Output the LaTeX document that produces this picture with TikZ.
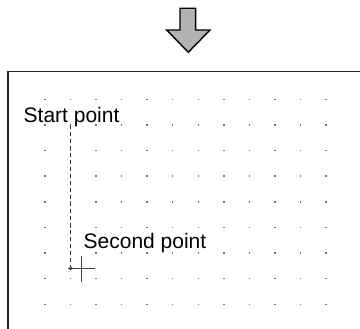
\documentclass[tikz,border=0pt]{standalone}
\usepackage{fontspec}
\setmainfont{Liberation Sans}
\begin{document}
\begin{tikzpicture}[x=1pt,y=-1pt,
  gdot/.style={fill=black!55},
  lbl/.style={inner sep=0pt,anchor=base west,font=\fontsize{21}{25}\selectfont},
  frame/.style={draw=black!85,line width=1.6pt},
  guide/.style={draw=black!80,line width=1.1pt,dash pattern=on 4pt off 3pt},
  cross/.style={draw=black!75,line width=1.5pt}]
\useasboundingbox (0,0) rectangle (360,329);
\fill[white] (0,0) rectangle (360,329);
% arrow
\draw[fill=black!30,line width=1.4pt,line join=miter]
  (180,8.3) -- (195.7,8.3) -- (195.7,30) -- (210,30) -- (188.3,52.3) -- (166.7,30) -- (180,30) -- cycle;
% frame
\draw[frame] (8,71.7) rectangle (375,345);
% dots
\foreach \i in {0,...,11}{
  \foreach \j in {0,...,8}{
    \fill[gdot] ({45+25.55*\i-0.75},{99.3+25.62*\j-0.75}) rectangle ++(1.5,1.5);
  }
}
% labels
\node[lbl] (start) at (23.5,122.7) {Start point};
\node[lbl] (second) at (83.5,249) {Second point};
% guide line
\coordinate (p1) at (70.7,125);
\coordinate (p2) at (70.7,268.3);
\draw[guide] (p1) -- (p2);
\draw[black!70,line width=0.8pt,fill=white] (p2) circle (1.6);
% crosshair
\draw[cross] (68.5,268.3) -- (95,268.3);
\draw[cross] (81.7,255.7) -- (81.7,281.7);
\end{tikzpicture}
\end{document}
